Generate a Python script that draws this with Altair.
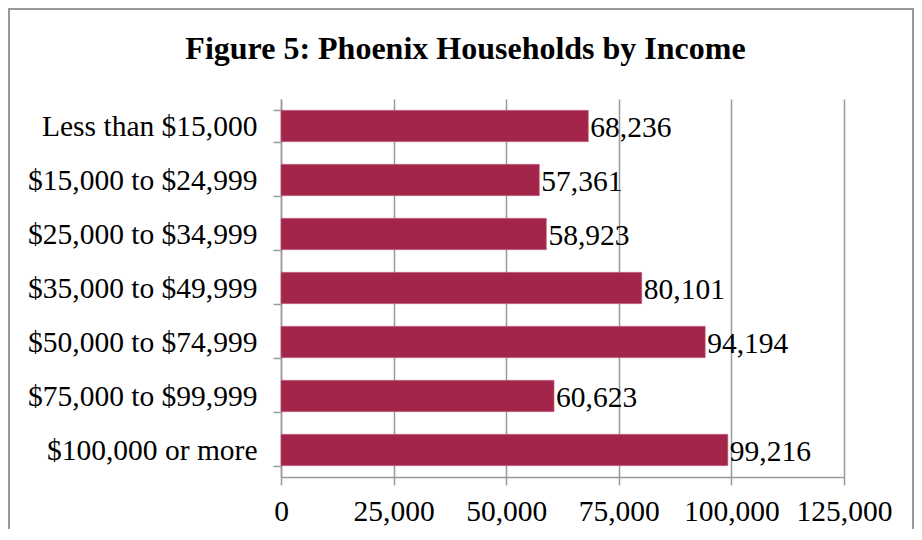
import altair as alt
import pandas as pd

categories = [
    "Less than $15,000",
    "$15,000 to $24,999",
    "$25,000 to $34,999",
    "$35,000 to $49,999",
    "$50,000 to $74,999",
    "$75,000 to $99,999",
    "$100,000 or more",
]
households = [68236, 57361, 58923, 80101, 94194, 60623, 99216]
x_ticks = [0, 25000, 50000, 75000, 100000, 125000]

df = pd.DataFrame({"category": categories, "households": households})

FONT = "Liberation Serif"
GRID = "#9a9a9a"
BAR = "#A3264A"
FS = 29.5

y_enc = alt.Y(
    "category:N",
    sort=categories,
    scale=alt.Scale(paddingInner=0.42, paddingOuter=0.21),
    axis=alt.Axis(
        title=None,
        labelFont=FONT,
        labelFontSize=FS,
        labelColor="black",
        labelPadding=16,
        tickBand="extent",
        tickSize=8,
        tickColor=GRID,
        tickWidth=1.5,
        domainColor=GRID,
        domainWidth=1.5,
        grid=False,
        labelLimit=400,
    ),
)
x_enc = alt.X(
    "households:Q",
    scale=alt.Scale(domain=[0, 125000], nice=False),
    axis=alt.Axis(
        title=None,
        values=x_ticks,
        format=",.0f",
        labelFont=FONT,
        labelFontSize=FS,
        labelColor="black",
        labelPadding=12,
        labelOverlap=False,
        labelFlush=False,
        tickSize=8,
        tickColor=GRID,
        tickWidth=1.5,
        domainColor=GRID,
        domainWidth=1.5,
        grid=True,
        gridColor=GRID,
        gridWidth=1.5,
        gridOpacity=1,
    ),
)

frame = alt.Chart(df).mark_rect(fill=None, stroke="#999999", strokeWidth=2).encode(
    x=alt.value(-272), x2=alt.value(632), y=alt.value(-90), y2=alt.value(700)
)

bars = alt.Chart(df).mark_bar(color=BAR, stroke="#c46a86", strokeWidth=0.6).encode(
    x=x_enc, y=y_enc
)

labels = alt.Chart(df).mark_text(
    align="left", baseline="middle", dx=2, dy=2, font=FONT, fontSize=FS, color="black"
).encode(
    x=x_enc,
    y=y_enc,
    text=alt.Text("households:Q", format=","),
)

chart = (
    alt.layer(frame, bars, labels)
    .properties(
        width=563,
        height=378,
        title=alt.Title(
            "Figure 5: Phoenix Households by Income",
            font=FONT,
            fontSize=32,
            fontWeight="bold",
            color="black",
            anchor="middle",
            dx=-97,
            offset=-58,
        ),
        padding={"left": 273, "top": 91, "right": 70, "bottom": 52},
        autosize=alt.AutoSizeParams(type="none"),
    )
    .configure_view(stroke=None)
)

chart.save("out.html", embed_options={"renderer": "svg", "actions": False})
